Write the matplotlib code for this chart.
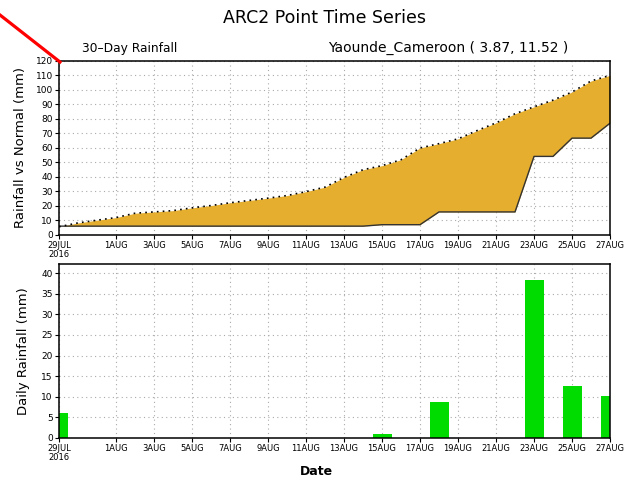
import numpy as np
import matplotlib
matplotlib.use("Agg")
import matplotlib.pyplot as plt
from matplotlib.lines import Line2D

# days since 29 JUL 2016
days = np.arange(30)
daily_rain = [6.1, 0, 0, 0, 0, 0, 0, 0, 0, 0, 0, 0, 0, 0, 0, 0, 0, 1.0,
              0, 0, 8.8, 0, 0, 0, 0, 38.3, 0, 12.6, 0, 10.3]
normal_cum = [5.7, 8.3, 10.2, 12.0, 15.0, 15.9, 16.8, 18.7, 20.3, 22.2,
              23.8, 25.4, 27.2, 29.9, 33.0, 39.7, 45.0, 47.8, 51.9, 60.0,
              63.0, 66.3, 72.0, 77.3, 83.6, 88.4, 93.0, 98.6, 106.2, 110.1]
tick_days = [0, 3, 5, 7, 9, 11, 13, 15, 17, 19, 21, 23, 25, 27, 29]
tick_labels = ["29JUL\n2016", "1AUG", "3AUG", "5AUG", "7AUG", "9AUG", "11AUG",
               "13AUG", "15AUG", "17AUG", "19AUG", "21AUG", "23AUG", "25AUG", "27AUG"]

actual_cum = np.cumsum(daily_rain)
normal_cum = np.array(normal_cum)

plt.rcParams['font.family'] = ['DejaVu Sans']
fig = plt.figure(figsize=(6.33, 4.86), dpi=100)

ax1 = fig.add_axes([0.0932, 0.5165, 0.8705, 0.358])
ax2 = fig.add_axes([0.0932, 0.0988, 0.8705, 0.358])

# top panel: cumulative rainfall vs normal
ax1.fill_between(days, actual_cum, normal_cum, where=normal_cum >= actual_cum,
                 interpolate=True, color="#e5ae2f", lw=0)
ax1.fill_between(days, actual_cum, normal_cum, where=normal_cum < actual_cum,
                 interpolate=True, color="#3060e0", lw=0)
ax1.plot(days, actual_cum, color="#333333", lw=1.0)
ax1.plot(days, normal_cum, color="black", lw=1.2, ls=(0, (1, 2.5)))
ax1.set_ylim(0, 120)
ax1.set_yticks(np.arange(0, 121, 10))

# bottom panel: daily rainfall
ax2.bar(days, daily_rain, width=1.0, color="#00dc00", align="center")
ax2.set_ylim(0, 42.2)
ax2.set_yticks(np.arange(0, 41, 5))

for ax in (ax1, ax2):
    ax.set_xlim(0, 29)
    ax.set_xticks(tick_days)
    ax.set_xticklabels(tick_labels, fontsize=6, linespacing=0.9)
    ax.tick_params(axis="y", labelsize=6.5, length=3, width=0.8, pad=1.5)
    ax.tick_params(axis="x", length=3, width=0.8, pad=1.5)
    ax.grid(True, color="#aaaaaa", ls=(0, (1, 3)), lw=0.8)
    ax.set_axisbelow(True)
    for s in ax.spines.values():
        s.set_linewidth(1.1)
        s.set_zorder(5)
    ax.spines["left"].set_linestyle((0, (4, 1)))
    ax.spines["bottom"].set_linestyle((0, (4, 1)))

ax1.spines["top"].set_linestyle((0, (4, 1)))
ax2.spines["right"].set_linestyle((0, (4, 1)))

ax1.set_ylabel("Rainfall vs Normal (mm)", fontsize=9.5, labelpad=6)
ax2.set_ylabel("Daily Rainfall (mm)", fontsize=9.5, labelpad=8)
fig.text(0.5, 0.017, "Date", ha="center", va="bottom", fontsize=9, fontweight="bold")

fig.text(0.513, 0.963, "ARC2 Point Time Series", ha="center", va="center", fontsize=12.5)
fig.text(0.204, 0.901, "30\u2013Day Rainfall", ha="center", va="center", fontsize=8.8)
fig.text(0.708, 0.901, "Yaounde_Cameroon ( 3.87, 11.52 )", ha="center", va="center",
         fontsize=10)

# red pointer line in the top-left corner
fig.add_artist(Line2D([0, 60 / 633], [1 - 15 / 486, 1 - 62 / 486],
                      transform=fig.transFigure, color="red", lw=2.3))

fig.savefig("out.png", dpi=100)
